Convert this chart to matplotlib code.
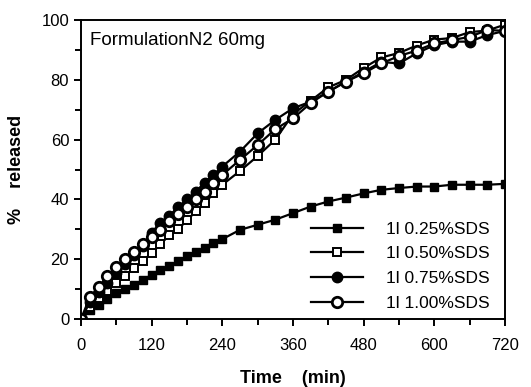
import numpy as np
import matplotlib.pyplot as plt

plt.rcParams['font.family'] = ['Liberation Sans', 'DejaVu Sans']

# sampling times (min): every 15 up to 240, then every 30
time = [0, 15, 30, 45, 60, 75, 90, 105, 120, 135, 150, 165, 180, 195, 210, 225, 240,
        270, 300, 330, 360, 390, 420, 450, 480, 510, 540, 570, 600, 630, 660, 690, 720]

sds_025 = [0, 2.9, 4.8, 6.7, 8.7, 10.0, 11.5, 13.0, 14.8, 16.3, 17.6, 19.3, 21.0, 22.4, 23.7, 25.4, 26.7,
           29.8, 31.5, 33.2, 35.4, 37.6, 39.3, 40.6, 42.0, 43.2, 43.8, 44.3, 44.3, 44.9, 44.9, 44.9, 45.2]
sds_050 = [0, 4.0, 7.0, 9.5, 12.0, 14.5, 17.0, 19.5, 22.0, 25.0, 28.0, 30.0, 33.0, 36.0, 38.7, 42.0, 44.9,
           49.5, 54.5, 60.0, 68.5, 73.0, 77.5, 80.0, 84.0, 87.5, 89.0, 91.5, 93.5, 94.0, 96.0, 96.5, 98.5]
sds_075 = [0, 5.5, 9.0, 12.0, 15.5, 18.5, 21.5, 24.5, 28.7, 32.0, 34.5, 37.4, 40.0, 42.6, 45.6, 48.2, 51.0,
           56.0, 62.1, 66.6, 70.5, 72.7, 76.0, 79.4, 82.7, 86.0, 85.5, 88.9, 91.6, 92.8, 92.8, 95.0, 96.4]
sds_100 = [0, 7.2, 10.7, 14.3, 17.3, 20.0, 22.4, 25.0, 27.4, 29.8, 32.6, 35.0, 37.6, 40.0, 42.6, 45.4, 48.2,
           53.2, 58.2, 63.5, 67.1, 72.2, 76.1, 79.4, 82.2, 85.5, 88.0, 89.8, 92.2, 93.3, 94.4, 96.7, 96.4]

labels = ['1l 0.25%SDS', '1l 0.50%SDS', '1l 0.75%SDS', '1l 1.00%SDS']

fig = plt.figure(figsize=(5.31, 3.87), dpi=100)
ax = fig.add_axes([0.1525, 0.176, 0.7985, 0.772])

ax.plot(time, sds_025, color='black', lw=1.6, marker='s', ms=5.8, mfc='black', mec='black', label=labels[0])
ax.plot(time, sds_050, color='black', lw=1.6, marker='s', ms=5.8, mfc='white', mec='black', mew=1.4, label=labels[1])
ax.plot(time, sds_075, color='black', lw=1.6, marker='o', ms=7.5, mfc='black', mec='black', label=labels[2])
ax.plot(time, sds_100, color='black', lw=1.6, marker='o', ms=7.5, mfc='white', mec='black', mew=2.0, label=labels[3])

ax.set_xlim(0, 720)
ax.set_ylim(0, 100)
ax.set_xticks(np.arange(0, 721, 120))
ax.set_xticks(np.arange(0, 721, 60), minor=True)
ax.set_yticks(np.arange(0, 101, 20))
ax.set_yticks(np.arange(0, 101, 10), minor=True)
ax.tick_params(which='both', direction='out', width=1.4, labelsize=12)
ax.tick_params(which='major', length=5)
ax.tick_params(which='minor', length=4)
ax.tick_params(axis='x', pad=9)
for s in ax.spines.values():
    s.set_linewidth(1.4)

ax.set_xlabel('Time    (min)', fontsize=13, fontweight='bold', labelpad=12)
ax.set_ylabel('%    released', fontsize=13, fontweight='bold', labelpad=12)

ax.text(16, 93.3, 'FormulationN2 60mg', fontsize=13.5, va='center')

leg = ax.legend(loc='lower right', bbox_to_anchor=(1.0, -0.025), frameon=False, fontsize=12.5,
                handlelength=3.0, handletextpad=1.3, labelspacing=0.55)

fig.savefig('out.png', dpi=100)
